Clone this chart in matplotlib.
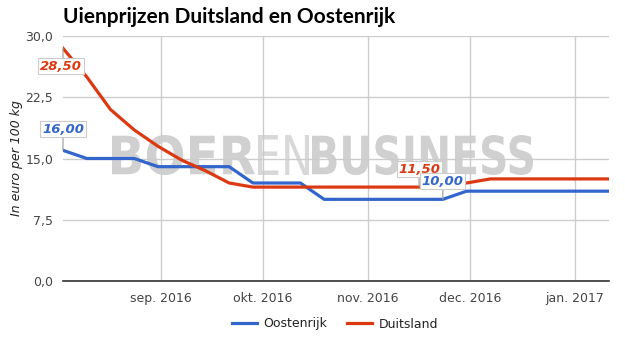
import matplotlib
matplotlib.use("Agg")
import matplotlib.pyplot as plt
import pandas as pd
from matplotlib.textpath import TextPath
from matplotlib.patches import PathPatch
from matplotlib.font_manager import FontProperties
from matplotlib.transforms import Affine2D
from matplotlib.ticker import FuncFormatter

# Weekly onion prices (euro per 100 kg)
dates = pd.date_range("2016-08-03", periods=24, freq="7D")
oostenrijk = [16.0, 15.0, 15.0, 15.0, 14.0, 14.0, 14.0, 14.0, 12.0, 12.0, 12.0, 10.0,
              10.0, 10.0, 10.0, 10.0, 10.0, 11.0, 11.0, 11.0, 11.0, 11.0, 11.0, 11.0]
duitsland = [28.5, 25.0, 21.0, 18.5, 16.5, 14.8, 13.5, 12.0, 11.5, 11.5, 11.5, 11.5,
             11.5, 11.5, 11.5, 11.5, 11.5, 12.0, 12.5, 12.5, 12.5, 12.5, 12.5, 12.5]
series_names = ["Oostenrijk", "Duitsland"]
title = "Uienprijzen Duitsland en Oostenrijk"
y_label = "In euro per 100 kg"
y_ticks = [0, 7.5, 15, 22.5, 30]
month_ticks = pd.date_range("2016-09-01", "2017-01-01", freq="MS")
month_names = {9: "sep.", 10: "okt.", 11: "nov.", 12: "dec.", 1: "jan."}
# (series index, point index) of the labelled values
labelled = [(1, 0), (0, 0), (1, 15), (0, 16)]

BLUE = "#3366cc"
RED = "#dc3912"
W, H = 625, 339

fig = plt.figure(figsize=(W / 100, H / 100), dpi=100)
ax = fig.add_axes([63 / W, 1 - 281 / H, 546 / W, 245 / H])


def px(x, y):
    """figure pixel coords (top-left origin) -> inches"""
    return x / 100, (H - y) / 100


def stretched_text(s, x0, x1, ytop, ybot, weight, color, family="DejaVu Sans"):
    fp = FontProperties(family=family, weight=weight)
    tp = TextPath((0, 0), s, size=100, prop=fp)
    bb = tp.get_extents()
    sx = (x1 - x0) / 100 / bb.width
    sy = (ybot - ytop) / 100 / bb.height
    bx, by = px(x0, ybot)
    tr = Affine2D().translate(-bb.x0, -bb.y0).scale(sx, sy).translate(bx, by) + fig.dpi_scale_trans
    patch = PathPatch(tp, transform=tr, facecolor=color, edgecolor="none", zorder=0.2)
    ax.add_patch(patch)


# watermark behind grid and lines
stretched_text("BOER", 112, 255, 135, 175, "bold", "#d0d0d0")
stretched_text("EN", 258, 309, 135, 175, "normal", "#d8d8d8")
stretched_text("BUSINESS", 312, 533, 135, 175, "bold", "#d0d0d0")

ax.plot(dates, oostenrijk, color=BLUE, lw=2.3, zorder=3, solid_joinstyle="round")
ax.plot(dates, duitsland, color=RED, lw=2.3, zorder=3, solid_joinstyle="round")

ax.set_xlim(dates[0], dates[-1])
ax.set_ylim(0, 30)
ax.set_yticks(y_ticks)
ax.yaxis.set_major_formatter(FuncFormatter(lambda v, p: f"{v:.1f}".replace(".", ",")))
ax.set_xticks(month_ticks)
ax.set_xticklabels([f"{month_names[d.month]} {d.year}" for d in month_ticks])
ax.tick_params(length=0, labelsize=9, colors="#444444", pad=8)
ax.tick_params(axis="y", pad=7)
ax.grid(True, color="#cccccc", lw=1, zorder=0.5)
ax.set_axisbelow(True)
for s in ["top", "right", "left"]:
    ax.spines[s].set_visible(False)
ax.spines["bottom"].set_color("#333333")
ax.spines["bottom"].set_linewidth(1.2)
ax.spines["bottom"].set_zorder(2)

ax.set_ylabel(y_label, fontsize=9, style="italic", color="#222222", labelpad=2)

fig.text(63 / W, 1 - 17 / H, title, fontsize=15, fontweight="bold", color="#000000",
         va="center", ha="left", family="Lato")

# value labels
values = [oostenrijk, duitsland]
colors = [BLUE, RED]
offsets = {(1, 0): (-2, -18), (0, 0): (0, 21), (1, 15): (0, 18), (0, 16): (0, 18)}
for si, pi in labelled:
    v = values[si][pi]
    dx, dy = offsets[(si, pi)]
    relpos = (0.5 - dx / 42, 1.0) if dy < 0 else (0.5, 0.0)
    ax.annotate(f"{v:.2f}".replace(".", ","), xy=(dates[pi], v), xytext=(dx, dy),
                textcoords="offset pixels", ha="center", va="center",
                fontsize=9.5, fontweight="bold", style="italic", color=colors[si],
                bbox=dict(boxstyle="square,pad=0.12", fc="white", ec="#cccccc", lw=0.8),
                arrowprops=dict(arrowstyle="-", color="#999999", lw=0.8,
                                shrinkA=0, shrinkB=0, relpos=relpos),
                zorder=5)

handles = [plt.Line2D([], [], color=c, lw=2.3) for c in colors]
fig.legend(handles, series_names, loc="center", bbox_to_anchor=(335 / W, 1 - 324 / H),
           ncol=2, frameon=False, fontsize=9, handlelength=2.0, handletextpad=0.5,
           columnspacing=1.6, labelcolor="#222222")

fig.savefig("out.png", dpi=100)
